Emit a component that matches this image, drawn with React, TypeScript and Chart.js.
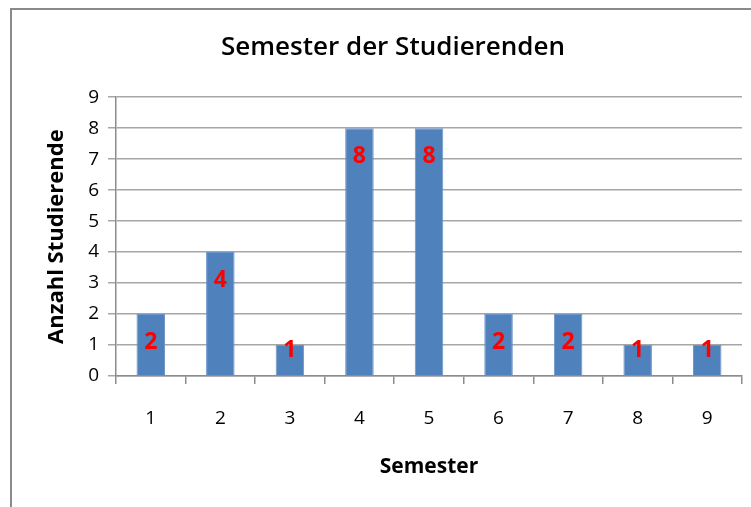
import React, { useEffect, useRef } from "react";
import { Chart, registerables } from "chart.js";

Chart.register(...registerables);

const categories = ["1", "2", "3", "4", "5", "6", "7", "8", "9"];
const counts = [2, 4, 1, 8, 8, 2, 2, 1, 1];
const yTicks = [0, 1, 2, 3, 4, 5, 6, 7, 8, 9];
const titleText = "Semester der Studierenden";
const xTitle = "Semester";
const yTitle = "Anzahl Studierende";

const FONT = "'Open Sans', 'Liberation Sans', sans-serif";

const framePlugin = {
  id: "frame",
  beforeDraw(chart: any) {
    const ctx = chart.ctx;
    ctx.save();
    ctx.fillStyle = "#ffffff";
    ctx.fillRect(0, 0, chart.width, chart.height);
    ctx.strokeStyle = "#8a8a8a";
    ctx.lineWidth = 2;
    ctx.beginPath();
    ctx.moveTo(11, chart.height + 5);
    ctx.lineTo(11, 9);
    ctx.lineTo(chart.width + 5, 9);
    ctx.stroke();
    ctx.restore();
  },
};

const labelPlugin = {
  id: "barLabels",
  afterDatasetsDraw(chart: any) {
    const ctx = chart.ctx;
    const meta = chart.getDatasetMeta(0);
    ctx.save();
    ctx.fillStyle = "#ff0000";
    ctx.font = `bold 23px ${FONT}`;
    ctx.textAlign = "center";
    ctx.textBaseline = "middle";
    meta.data.forEach((bar: any, i: number) => {
      const h = bar.base - bar.y;
      const off = Math.min(28, h - 25);
      ctx.fillText(String(counts[i]), bar.x, bar.y + off);
    });
    ctx.restore();
  },
};

export default function App() {
  const ref = useRef<HTMLCanvasElement>(null);
  useEffect(() => {
    if (!ref.current) return;
    const chart = new Chart(ref.current, {
      type: "bar",
      data: {
        labels: categories,
        datasets: [
          {
            data: counts,
            backgroundColor: "#4F81BD",
            borderColor: "#6a95c8",
            borderWidth: 1,
            barPercentage: 0.41,
            categoryPercentage: 1,
          },
        ],
      },
      options: {
        animation: false,
        responsive: false,
        maintainAspectRatio: false,
        layout: { padding: { left: 44, right: 9, top: 0, bottom: 27 } },
        plugins: {
          legend: { display: false },
          tooltip: { enabled: false },
          title: {
            display: true,
            text: titleText,
            color: "#000",
            font: { family: FONT, size: 26, weight: "600" },
            padding: { top: 32, bottom: 34 },
          },
        },
        scales: {
          x: {
            offset: true,
            afterFit(scale: any) {
              scale.height = 104;
            },
            grid: {
              offset: true,
              drawOnChartArea: false,
              drawTicks: true,
              tickLength: 8,
              color: "#8c8c8c",
              lineWidth: 1.5,
            },
            border: { color: "#8c8c8c", width: 1.5 },
            ticks: {
              color: "#000",
              font: { family: FONT, size: 19 },
              padding: 23,
            },
            title: {
              display: true,
              text: xTitle,
              color: "#000",
              font: { family: FONT, size: 21, weight: "bold" },
              padding: { top: 0, bottom: 0 },
            },
          },
          y: {
            min: 0,
            max: 9,
            afterBuildTicks(scale: any) {
              scale.ticks = yTicks.map((v) => ({ value: v }));
            },
            afterFit(scale: any) {
              scale.width = 72;
            },
            grid: {
              color: "#a6a6a6",
              lineWidth: 1.5,
              tickLength: 8,
            },
            border: { color: "#8c8c8c", width: 1.5 },
            ticks: {
              color: "#000",
              font: { family: FONT, size: 19 },
              padding: 9,
            },
            title: {
              display: true,
              text: yTitle,
              color: "#000",
              font: { family: FONT, size: 22, weight: "bold" },
              padding: { top: 0, bottom: 0 },
            },
          },
        },
      },
      plugins: [framePlugin, labelPlugin],
    });
    return () => chart.destroy();
  }, []);
  return (
    <div style={{ position: "absolute", left: 0, top: 0, width: 751, height: 507 }}>
      <canvas ref={ref} width={751} height={507} style={{ width: 751, height: 507 }} />
    </div>
  );
}
